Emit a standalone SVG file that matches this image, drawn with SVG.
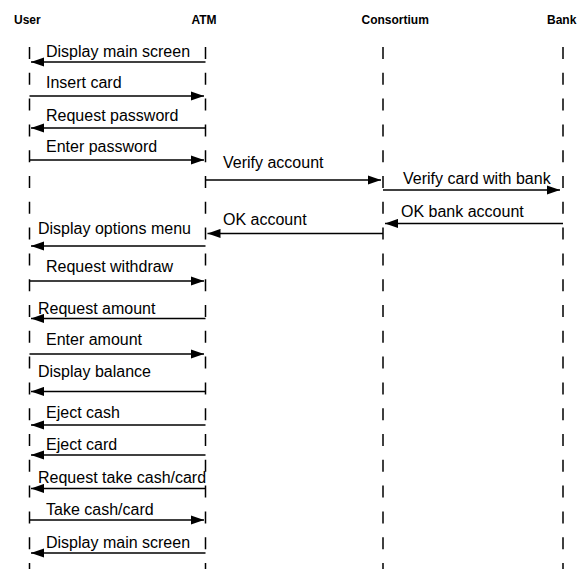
<svg xmlns="http://www.w3.org/2000/svg" width="588" height="569" viewBox="0 0 588 569">
  <defs>
    <marker id="ah" markerWidth="14" markerHeight="10" refX="13" refY="5" orient="auto" markerUnits="userSpaceOnUse">
      <path d="M0,0.4 L13,5 L0,9.6 z" fill="#000"/>
    </marker>
    <style>
      .head { font-family: "Liberation Sans", Arial, sans-serif; font-weight: bold; font-size: 12px; fill: #000; }
      .life { stroke: #000; stroke-width: 1.5; stroke-dasharray: 12 13.8; fill: none; }
      .msg { stroke: #000; stroke-width: 1.3; fill: none; marker-end: url(#ah); }
      .lbl { font-family: "Liberation Sans", Arial, sans-serif; font-size: 16px; fill: #000; }
    </style>
  </defs>
  <rect width="588" height="569" fill="#fff"/>

  <!-- participants with their lifelines -->
  <g id="user">
    <text class="head" x="14" y="24">User</text>
    <line class="life" x1="29.5" y1="47" x2="29.5" y2="569"/>
  </g>
  <g id="atm">
    <text class="head" x="191.5" y="24">ATM</text>
    <line class="life" x1="205.5" y1="47" x2="205.5" y2="569"/>
  </g>
  <g id="consortium">
    <text class="head" x="361.5" y="24">Consortium</text>
    <line class="life" x1="383" y1="47" x2="383" y2="569"/>
  </g>
  <g id="bank">
    <text class="head" x="547" y="24">Bank</text>
    <line class="life" x1="563" y1="47" x2="563" y2="569"/>
  </g>

  <!-- messages -->
  <g id="messages">
    <line class="msg" x1="205.5" y1="62" x2="31" y2="62"/>
    <line class="msg" x1="29.5" y1="96" x2="204" y2="96"/>
    <line class="msg" x1="205.5" y1="128" x2="31" y2="128"/>
    <line class="msg" x1="29.5" y1="160" x2="204" y2="160"/>
    <line class="msg" x1="205.5" y1="180" x2="381" y2="180"/>
    <line class="msg" x1="383" y1="190" x2="560" y2="190"/>
    <line class="msg" x1="563" y1="223.5" x2="385" y2="223.5"/>
    <line class="msg" x1="383" y1="233.5" x2="207.5" y2="233.5"/>
    <line class="msg" x1="205.5" y1="246" x2="31" y2="246"/>
    <line class="msg" x1="29.5" y1="281" x2="204" y2="281"/>
    <line class="msg" x1="205.5" y1="318.5" x2="31" y2="318.5"/>
    <line class="msg" x1="29.5" y1="354" x2="204" y2="354"/>
    <line class="msg" x1="205.5" y1="391.5" x2="31" y2="391.5"/>
    <line class="msg" x1="205.5" y1="425" x2="31" y2="425"/>
    <line class="msg" x1="205.5" y1="455" x2="31" y2="455"/>
    <line class="msg" x1="205.5" y1="488.5" x2="31" y2="488.5"/>
    <line class="msg" x1="29.5" y1="520" x2="204" y2="520"/>
    <line class="msg" x1="205.5" y1="553" x2="31" y2="553"/>
  </g>

  <!-- message labels -->
  <g id="labels">
    <text class="lbl" x="46" y="56.7">Display main screen</text>
    <text class="lbl" x="46" y="87.5">Insert card</text>
    <text class="lbl" x="46" y="121">Request password</text>
    <text class="lbl" x="46" y="152">Enter password</text>
    <text class="lbl" x="223" y="168">Verify account</text>
    <text class="lbl" x="403" y="183.5">Verify card with bank</text>
    <text class="lbl" x="401" y="217">OK bank account</text>
    <text class="lbl" x="223" y="225">OK account</text>
    <text class="lbl" x="38" y="233.5">Display options menu</text>
    <text class="lbl" x="46" y="272">Request withdraw</text>
    <text class="lbl" x="38" y="313.5">Request amount</text>
    <text class="lbl" x="46" y="345">Enter amount</text>
    <text class="lbl" x="38" y="377">Display balance</text>
    <text class="lbl" x="46" y="418">Eject cash</text>
    <text class="lbl" x="46" y="449.5">Eject card</text>
    <text class="lbl" x="38" y="483">Request take cash/card</text>
    <text class="lbl" x="46" y="515">Take cash/card</text>
    <text class="lbl" x="46" y="547.5">Display main screen</text>
  </g>
</svg>
